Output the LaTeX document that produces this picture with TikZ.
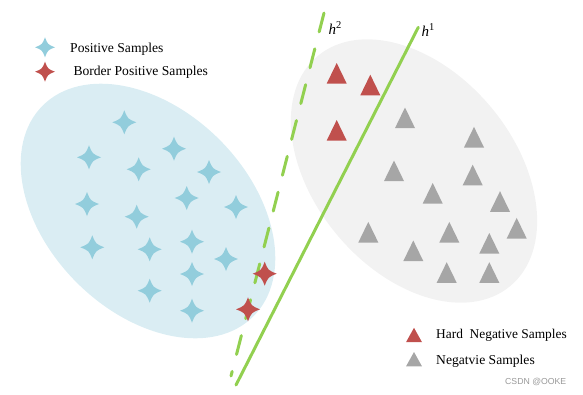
\documentclass[tikz,border=0pt]{standalone}
\usepackage{fontspec}
\setmainfont{Liberation Serif}
\newfontfamily\wmfont{Liberation Sans}
\definecolor{bluefill}{HTML}{DAEDF3}
\definecolor{grayfill}{HTML}{F2F2F2}
\definecolor{starblue}{HTML}{92CDDC}
\definecolor{redmark}{HTML}{C0504D}
\definecolor{graymark}{HTML}{A6A6A6}
\definecolor{linegreen}{HTML}{92D050}
\tikzset{
  star4/.pic={\path[pic actions] (0,-12) .. controls (3.4,-3.4) .. (12,0) .. controls (3.4,3.4) .. (0,12) .. controls (-3.4,3.4) .. (-12,0) .. controls (-3.4,-3.4) .. cycle;},
  star4s/.pic={\path[pic actions] (0,-10) .. controls (2.8,-2.8) .. (10,0) .. controls (2.8,2.8) .. (0,10) .. controls (-2.8,2.8) .. (-10,0) .. controls (-2.8,-2.8) .. cycle;},
  tri/.pic={\path[pic actions] (-10,10.3) -- (10,10.3) -- (0,-10.3) -- cycle;},
  tris/.pic={\path[pic actions] (-8,7.2) -- (8,7.2) -- (0,-7.2) -- cycle;},
  legtext/.style={anchor=base west, inner sep=0pt, font=\fontsize{13.6}{15}\selectfont},
  hlabel/.style={anchor=base west, inner sep=0pt, font=\fontsize{15}{17}\selectfont},
  sepline/.style={draw=linegreen, line width=3pt, line cap=round},
}
\begin{document}
\begin{tikzpicture}[x=1pt,y=-1pt]
\useasboundingbox (0,0) rectangle (583,394);
% ellipses
\fill[grayfill, rotate around={-50:(414,171)}] (414,171) ellipse (150 and 100);
\fill[bluefill, rotate around={-45:(148,211)}] (148,211) ellipse (149 and 101);
% lines
\coordinate (h1top) at (418.3,27.3);
\coordinate (h1bot) at (236,385);
\coordinate (h2top) at (324,13);
\coordinate (h2bot) at (231,376);
\draw[sepline] (h1top) -- (h1bot);
\draw[sepline, dash pattern=on 19.5pt off 17.5pt] (h2top) -- (h2bot);
\node[hlabel] (lh2) at (328.5,34) {\itshape h\textsuperscript{\upshape 2}};
\node[hlabel] (lh1) at (421.5,36) {\itshape h\textsuperscript{\upshape 1}};
% blue stars
\foreach \p in {(124.3,122.3),(89,157.3),(174,148.7),(138.7,169.3),(209,172),(87,204),(186.7,198),(136.7,216.7),(236,207),(92.3,247.3),(149.7,249.3),(192,241.7),(226,259),(192,274),(149.7,290.7),(192,310.7)}
  \pic[fill=starblue] at \p {star4};
% red stars
\pic[fill=redmark] at (264.7,273.7) {star4};
\pic[fill=redmark] at (248,309.3) {star4};
% red triangles
\foreach \p in {(336.7,73.3),(370.3,85),(336.7,130.3)}
  \pic[fill=redmark] at \p {tri};
% gray triangles
\foreach \p in {(405,117.8),(474,137.2),(394,170.8),(472.7,175),(432.7,193.3),(500,201.5),(368.3,232.2),(449.3,232.2),(516.7,228.2),(489.3,243.3),(413.3,250.8),(446.7,272.5),(489.3,272.5)}
  \pic[fill=graymark] at \p {tri};
% legend
\pic[fill=starblue] at (45,47.3) {star4s};
\pic[fill=redmark] at (45,71.7) {star4s};
\node[legtext] (l1) at (70,52) {Positive Samples};
\node[legtext] (l2) at (73.3,75.5) {Border Positive Samples};
\pic[fill=redmark] at (414,335) {tris};
\pic[fill=graymark] at (414,359.2) {tris};
\node[legtext, font=\fontsize{13.4}{15}\selectfont] (l3) at (436,338.3) {Hard\ \ Negative Samples};
\node[legtext] (l4) at (436,364) {Negatvie Samples};
\node[anchor=base west, inner sep=0pt, text=black!40, font=\wmfont\fontsize{8.7}{10}\selectfont] (wm) at (505,384.3) {CSDN @OOKE};
\end{tikzpicture}
\end{document}
